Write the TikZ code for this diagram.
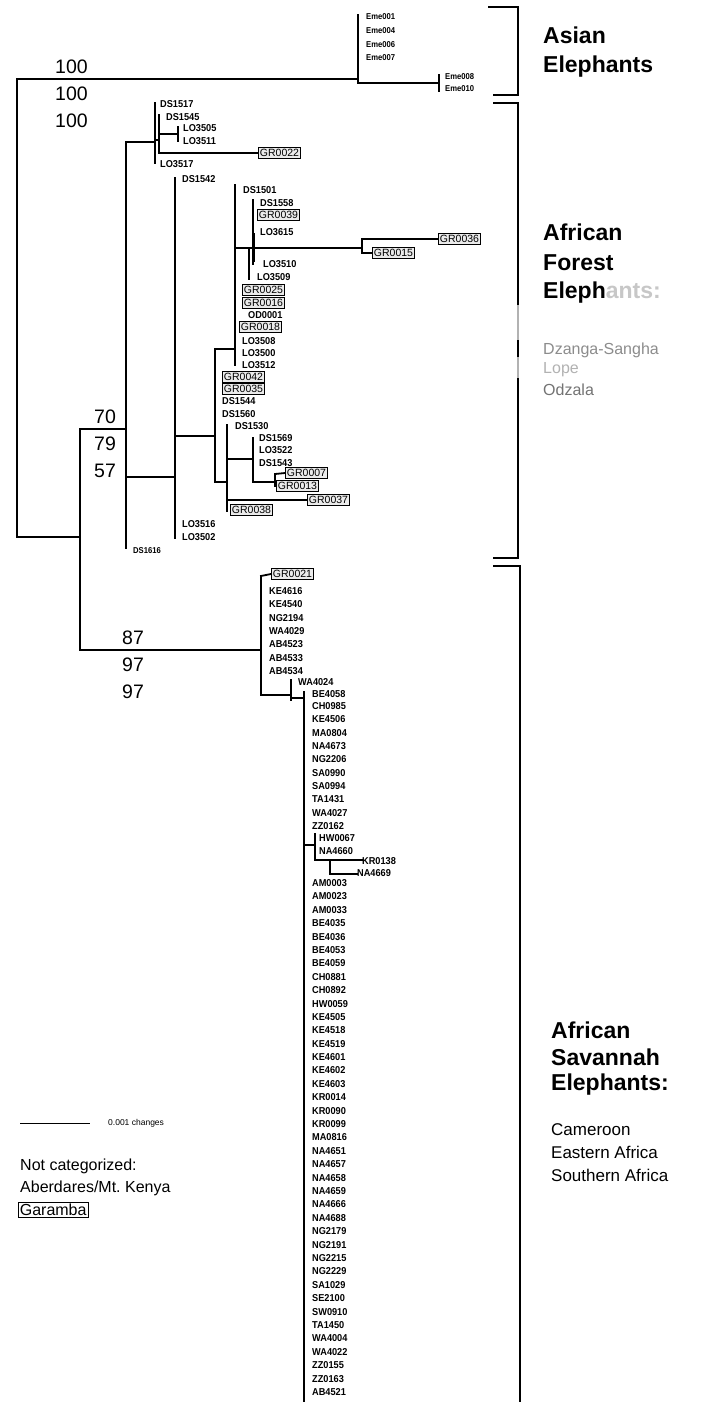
\documentclass[tikz,border=0pt]{standalone}
\usepackage{fontspec}
\setmainfont{Liberation Sans}
\begin{document}
\begin{tikzpicture}[x=1pt,y=-1pt,
  br/.style={line width=1.8pt,line cap=rect},
  lf/.style={anchor=west,inner sep=0pt,font=\fontsize{10}{10}\selectfont\bfseries,xscale=0.92},
  sm/.style={anchor=west,inner sep=0pt,font=\fontsize{8.5}{9}\selectfont\bfseries,xscale=0.9},
  gb/.style={anchor=west,draw,fill=black!8,line width=0.7pt,inner sep=1.6pt,font=\fontsize{10.5}{11}\selectfont},
  boot/.style={anchor=west,inner sep=0pt,font=\fontsize{19.5}{20}\selectfont},
  grp/.style={anchor=west,inner sep=0pt,font=\fontsize{23}{24}\selectfont\bfseries},
  reg/.style={anchor=west,inner sep=0pt,font=\fontsize{16}{18}\selectfont},
  bracket/.style={line width=1.3pt}]
\fill[white] (0,0) rectangle (718,1402);
\useasboundingbox (0,0) rectangle (718,1402);

% ---------- root ----------
\coordinate (r1) at (17,79);
\coordinate (r2) at (17,537);
\draw[br] (r1) -- (r2);

% ---------- Asian elephants ----------
\coordinate (a0) at (358,79);
\coordinate (at) at (358,15);
\coordinate (ab) at (358,83);
\coordinate (b0) at (439,83);
\coordinate (bt) at (439,75);
\coordinate (bb) at (439,91);
\draw[br] (r1) -- (a0);
\draw[br] (at) -- (ab) -- (b0);
\draw[br] (bt) -- (bb);
\node[sm] (e1) at (366,17) {Eme001};
\node[sm] (e4) at (366,31) {Eme004};
\node[sm] (e6) at (366,45) {Eme006};
\node[sm] (e7) at (366,58) {Eme007};
\node[sm] (e8) at (445,77) {Eme008};
\node[sm] (e10) at (445,89) {Eme010};

% ---------- deep split ----------
\coordinate (c0) at (80,537);
\coordinate (ct) at (80,429);
\coordinate (cb) at (80,650);
\draw[br] (r2) -- (c0);
\draw[br] (ct) -- (cb);

% ---------- African forest elephants ----------
\coordinate (d0) at (126,429);
\coordinate (dt) at (126,142);
\coordinate (db) at (126,548);
\draw[br] (ct) -- (d0);
\draw[br] (dt) -- (db);
\node[sm] (ds1616) at (133,551) {DS1616};

% first forest subclade
\coordinate (e0) at (155,142);
\coordinate (et) at (155,103);
\coordinate (eb) at (155,163);
\draw[br] (dt) -- (e0);
\draw[br] (et) -- (eb);
\node[lf] (ds1517) at (160,104) {DS1517};
\node[lf] (lo3517) at (160,164) {LO3517};
\coordinate (f0) at (159,140);
\coordinate (ft) at (159,115);
\coordinate (fb) at (159,153);
\draw[br] (e0 |- f0) -- (f0);
\draw[br] (ft) -- (fb);
\node[lf] (ds1545) at (166,117) {DS1545};
\coordinate (g0) at (178,134);
\coordinate (gt) at (178,127);
\coordinate (gb) at (178,141);
\draw[br] (f0 |- g0) -- (g0);
\draw[br] (gt) -- (gb);
\node[lf] (lo3505) at (183,128) {LO3505};
\node[lf] (lo3511) at (183,141) {LO3511};
\node[gb] (gr0022) at (258,153) {GR0022};
\draw[br] (fb) -- (gr0022.west);

% second forest subclade
\coordinate (h0) at (175,477);
\coordinate (ht) at (175,178);
\coordinate (hb) at (175,538);
\draw[br] (d0 |- h0) -- (h0);
\draw[br] (ht) -- (hb);
\node[lf] (ds1542) at (182,179) {DS1542};
\node[lf] (lo3516) at (182,524) {LO3516};
\node[lf] (lo3502) at (182,537) {LO3502};

\coordinate (i0) at (215,436);
\coordinate (it) at (215,349);
\coordinate (ib) at (215,482);
\draw[br] (h0 |- i0) -- (i0);
\draw[br] (it) -- (ib);
\node[gb] (gr0042) at (222,377) {GR0042};
\node[gb] (gr0035) at (222,389) {GR0035};
\node[lf] (ds1544) at (222,401) {DS1544};
\node[lf] (ds1560) at (222,414) {DS1560};

\coordinate (j0) at (235,349);
\coordinate (jt) at (235,185);
\coordinate (jb) at (235,365);
\draw[br] (it) -- (j0);
\draw[br] (jt) -- (jb);
\node[lf] (ds1501) at (243,190) {DS1501};
\node[gb] (gr0025) at (242,290) {GR0025};
\node[gb] (gr0016) at (242,303) {GR0016};
\node[lf] (od0001) at (248,315) {OD0001};
\node[gb] (gr0018) at (239,327) {GR0018};
\node[lf] (lo3508) at (242,341) {LO3508};
\node[lf] (lo3500) at (242,353) {LO3500};
\node[lf] (lo3512) at (242,365) {LO3512};

\coordinate (j1) at (235,248);
\coordinate (k0) at (249,248);
\coordinate (kb) at (249,279);
\coordinate (l0) at (253,248);
\coordinate (lt) at (253,200);
\coordinate (lb) at (253,264);
\coordinate (lt2) at (253,233);
\coordinate (lb2) at (253,262);
\coordinate (m0) at (362,248);
\coordinate (mt) at (362,239);
\coordinate (mb) at (362,253);
\draw[br] (j1) -- (m0);
\draw[br] (k0) -- (kb);
\draw[br] (lt) -- (lb);
\draw[line width=3pt] (lt2) -- (lb2);
\draw[br] (mt) -- (mb);
\node[lf] (lo3509) at (257,277) {LO3509};
\node[lf] (ds1558) at (260,203) {DS1558};
\node[gb] (gr0039) at (257,215) {GR0039};
\node[lf] (lo3615) at (260,232) {LO3615};
\node[lf] (lo3510) at (263,264) {LO3510};
\node[gb] (gr0036) at (438,239) {GR0036};
\node[gb] (gr0015) at (372,253) {GR0015};
\draw[br] (mt) -- (gr0036.west);
\draw[br] (mb) -- (gr0015.west);

\coordinate (n0) at (227,482);
\coordinate (nt) at (227,425);
\coordinate (nb) at (227,511);
\draw[br] (ib) -- (n0);
\draw[br] (nt) -- (nb);
\node[lf] (ds1530) at (235,426) {DS1530};
\node[gb] (gr0038) at (230,510) {GR0038};

\coordinate (o0) at (253,459);
\coordinate (ot) at (253,438);
\coordinate (ob) at (253,482);
\draw[br] (n0 |- o0) -- (o0);
\draw[br] (ot) -- (ob);
\node[lf] (ds1569) at (259,438) {DS1569};
\node[lf] (lo3522) at (259,450) {LO3522};
\node[lf] (ds1543) at (259,463) {DS1543};
\coordinate (p0) at (275,482);
\coordinate (pt) at (275,474);
\coordinate (pb) at (275,486);
\draw[br] (ob) -- (p0);
\draw[br] (pt) -- (pb);
\node[gb] (gr0007) at (285,473) {GR0007};
\node[gb] (gr0013) at (276,486) {GR0013};
\draw[br] (pt) -- (gr0007.west);
\node[gb] (gr0037) at (307,500) {GR0037};
\draw[br] (n0 |- gr0037) -- (gr0037.west);

% ---------- African savannah elephants ----------
\coordinate (q0) at (261,650);
\coordinate (qt) at (261,576);
\coordinate (qb) at (261,695);
\draw[br] (cb) -- (q0);
\draw[br] (qt) -- (qb);
\node[gb] (gr0021) at (271,574) {GR0021};
\draw[br] (qt) -- (gr0021.west);
\foreach \nm [count=\i from 0] in {KE4616,KE4540,NG2194,WA4029,AB4523,AB4533,AB4534}
  \node[lf] (q\nm) at (269,{591+13.33*\i}) {\nm};

\coordinate (s0) at (291,695);
\coordinate (st) at (291,680);
\coordinate (sb) at (291,700);
\draw[br] (qb) -- (s0);
\draw[br] (st) -- (sb);
\node[lf] (wa4024) at (298,682) {WA4024};

\coordinate (t0) at (304,698);
\coordinate (tt) at (304,692);
\coordinate (tb) at (304,1402);
\draw[br] (s0 |- t0) -- (t0);
\draw[br] (tt) -- (tb);
\node[lf] (be4058) at (312,694) {BE4058};
\foreach \nm [count=\i from 0] in {CH0985,KE4506,MA0804,NA4673,NG2206,SA0990,SA0994,TA1431,WA4027,ZZ0162}
  \node[lf] (u\nm) at (312,{706+13.33*\i}) {\nm};
\foreach \nm [count=\i from 0] in {AM0003,AM0023,AM0033,BE4035,BE4036,BE4053,BE4059,CH0881,CH0892,HW0059,KE4505,KE4518,KE4519,KE4601,KE4602,KE4603,KR0014,KR0090,KR0099,MA0816,NA4651,NA4657,NA4658,NA4659,NA4666,NA4688,NG2179,NG2191,NG2215,NG2229,SA1029,SE2100,SW0910,TA1450,WA4004,WA4022,ZZ0155,ZZ0163,AB4521}
  \node[lf] (w\nm) at (312,{883+13.395*\i}) {\nm};

\coordinate (v0) at (315,845);
\coordinate (vt) at (315,834);
\coordinate (vb) at (315,860);
\coordinate (x0) at (330,860);
\coordinate (xb) at (330,874);
\draw[br] (tt |- v0) -- (v0);
\draw[br] (vt) -- (vb);
\node[lf] (hw0067) at (319,838) {HW0067};
\node[lf] (na4660) at (319,851) {NA4660};
\node[lf] (kr0138) at (362,861) {KR0138};
\node[lf] (na4669) at (357,873) {NA4669};
\draw[br] (vb) -- (kr0138.west |- vb);
\draw[br] (x0) -- (xb) -- (na4669.west |- xb);

% ---------- bootstrap values ----------
\node[boot] (bs1) at (55,67) {100};
\node[boot] (bs2) at (55,94) {100};
\node[boot] (bs3) at (55,121) {100};
\node[boot] (bs4) at (94,417) {70};
\node[boot] (bs5) at (94,444) {79};
\node[boot] (bs6) at (94,471) {57};
\node[boot] (bs7) at (122,638) {87};
\node[boot] (bs8) at (122,665) {97};
\node[boot] (bs9) at (122,692) {97};

% ---------- group brackets ----------
\coordinate (k1) at (488,7);   \coordinate (k2) at (518,7);
\coordinate (k3) at (518,95);  \coordinate (k4) at (493,95);
\coordinate (k5) at (493,103); \coordinate (k6) at (518,103);
\coordinate (k7) at (518,305); \coordinate (k8) at (518,340);
\coordinate (k9) at (518,357); \coordinate (k10) at (518,378);
\coordinate (k11) at (518,558); \coordinate (k12) at (493,558);
\coordinate (k13) at (493,566); \coordinate (k14) at (520,566);
\coordinate (k15) at (520,1402);
\draw[bracket] (k1) -- (k2) -- (k3) -- (k4);
\draw[bracket] (k5) -- (k6) -- (k7);
\draw[bracket,black!30] (k7) -- (k8);
\draw[bracket] (k8) -- (k9);
\draw[bracket,black!30] (k9) -- (k10);
\draw[bracket] (k10) -- (k11) -- (k12);
\draw[bracket] (k13) -- (k14) -- (k15);

\node[grp] (asian1) at (543,35) {Asian};
\node[grp] (asian2) at (543,67) {Elephants};
\node[grp] (for1) at (543,232) {African};
\node[grp] (for2) at (543,263) {Forest};
\node[grp] (for3) at (543,293) {Eleph\textcolor{black!22}{ants:}};
\node[reg,text=black!45] (for4) at (543,350) {Dzanga-Sangha};
\node[reg,text=black!30] (for5) at (543,370) {Lope};
\node[reg,text=black!55] (for6) at (543,390) {Odzala};

\node[grp] (sav1) at (551,1030) {African};
\node[grp] (sav2) at (551,1057) {Savannah};
\node[grp] (sav3) at (551,1085) {Elephants:};
\node[reg,font=\fontsize{17}{18}\selectfont] (sav4) at (551,1130) {Cameroon};
\node[reg,font=\fontsize{17}{18}\selectfont] (sav5) at (551,1152) {Eastern Africa};
\node[reg,font=\fontsize{17}{18}\selectfont] (sav6) at (551,1175) {Southern Africa};

% ---------- legend ----------
\coordinate (sc1) at (20,1123);
\coordinate (sc2) at (90,1123);
\draw[line width=1pt] (sc1) -- (sc2);
\node[anchor=west,inner sep=0pt,font=\fontsize{8.5}{9}\selectfont] (sclab) at (108,1123) {0.001 changes};
\node[reg] (nc1) at (20,1166) {Not categorized:};
\node[reg] (nc2) at (20,1188) {Aberdares/Mt.\ Kenya};
\node[reg,draw,line width=0.7pt,inner sep=1.5pt] (nc3) at (18,1210) {Garamba};
\end{tikzpicture}
\end{document}
